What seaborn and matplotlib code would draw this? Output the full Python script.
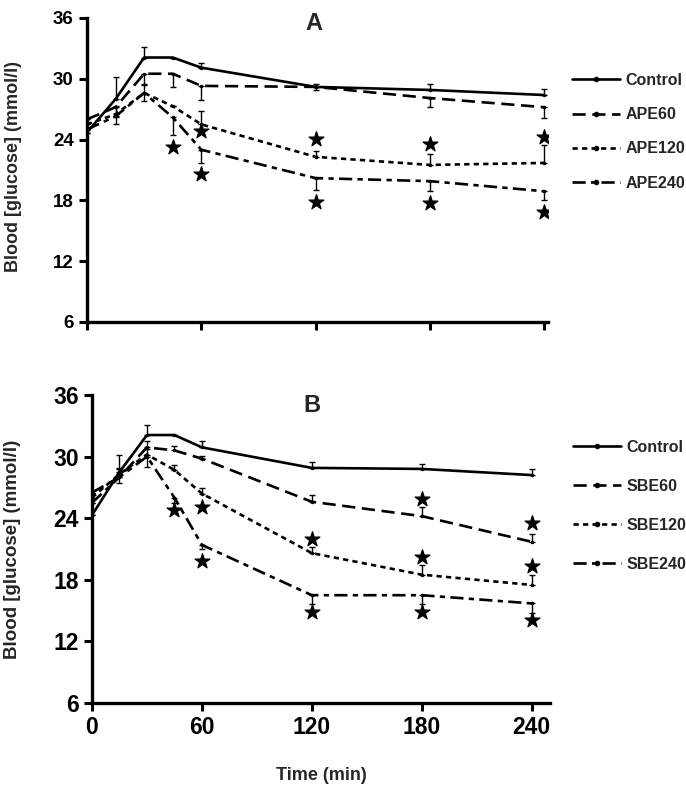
import numpy as np
import pandas as pd
import matplotlib
matplotlib.use("Agg")
import matplotlib.pyplot as plt
import seaborn as sns
from matplotlib.lines import Line2D

sns.set_style("ticks")
plt.rcParams['font.family'] = ['Liberation Sans', 'DejaVu Sans']
plt.rcParams['font.weight'] = 'bold'

# ---------------- data ----------------
time = [0, 15, 30, 45, 60, 120, 180, 240]

# Panel A
a_labels = ["Control", "APE60", "APE120", "APE240"]
a_control = [24.7, 28.0, 32.1, 32.1, 31.1, 29.2, 28.9, 28.4]
a_ape60 = [26.0, 27.2, 30.5, 30.5, 29.3, 29.2, 28.1, 27.2]
a_ape120 = [25.5, 26.5, 28.6, 27.3, 25.5, 22.3, 21.5, 21.7]
a_ape240 = [25.0, 26.3, 28.6, 26.2, 23.0, 20.2, 19.9, 18.9]
a_control_se = [0.0, 2.2, 1.0, 0.0, 0.5, 0.3, 0.6, 0.6]
a_ape60_se = [0.0, 1.0, 1.0, 1.3, 1.4, 0.3, 0.9, 1.1]
a_ape120_se = [0.0, 0.8, 0.8, 0.0, 1.3, 0.6, 1.1, 1.8]
a_ape240_se = [0.0, 0.8, 0.8, 1.7, 1.3, 1.2, 1.0, 0.9]

a_star_time = [45, 60, 60, 120, 120, 180, 180, 240, 240]
a_star_value = [23.3, 24.8, 20.6, 24.1, 17.8, 23.6, 17.7, 24.3, 16.9]

# Panel B
b_labels = ["Control", "SBE60", "SBE120", "SBE240"]
b_control = [24.3, 28.5, 32.1, 32.1, 30.9, 28.9, 28.8, 28.2]
b_sbe60 = [26.5, 28.0, 30.9, 30.6, 29.8, 25.6, 24.2, 21.7]
b_sbe120 = [26.0, 28.3, 30.2, 28.7, 26.4, 20.6, 18.5, 17.5]
b_sbe240 = [25.5, 28.0, 30.0, 26.0, 21.4, 16.5, 16.5, 15.7]
b_control_se = [0.0, 1.7, 1.0, 0.0, 0.6, 0.6, 0.5, 0.6]
b_sbe60_se = [0.0, 0.8, 0.6, 0.4, 0.3, 0.7, 0.9, 0.8]
b_sbe120_se = [0.0, 0.6, 0.5, 0.5, 0.5, 0.6, 0.9, 1.0]
b_sbe240_se = [0.0, 0.6, 1.0, 0.5, 0.4, 0.9, 0.9, 0.9]

b_star_time = [45, 60, 60, 120, 120, 180, 180, 180, 240, 240, 240]
b_star_value = [24.8, 25.1, 19.8, 22.0, 14.9, 25.9, 20.2, 14.9, 23.5, 19.3, 14.1]

yticks = [6, 12, 18, 24, 30, 36]
xticks = [0, 60, 120, 180, 240]

# ---------------- styling ----------------
dash_styles = ["-", (0, (5, 2.5)), (0, (2, 1.6)), (0, (5, 2, 2, 2))]
a_dirs = [1, -1, 1, -1]   # error bar direction
b_dirs = [1, 1, 1, -1]

fig = plt.figure(figsize=(6.86, 8.08), dpi=100)
axA = fig.add_axes([87/686, 1-322/808, 461/686, 304/808])
axB = fig.add_axes([92/686, 1-703/808, 458/686, 308/808])


def draw_panel(ax, series, ses, labels, dirs, st, sv, xlim):
    handles = []
    for vals, se, lab, ls, d in zip(series, ses, labels, dash_styles, dirs):
        df = pd.DataFrame({"t": time, "v": vals})
        sns.lineplot(data=df, x="t", y="v", ax=ax, color="black", lw=1.9,
                     linestyle=ls, marker="o", markersize=2.5, markeredgewidth=0,
                     legend=False)
        se = np.array(se)
        lower = se if d < 0 else np.zeros_like(se)
        upper = se if d > 0 else np.zeros_like(se)
        ax.errorbar(time, vals, yerr=[lower, upper], fmt="none", ecolor="black",
                    elinewidth=1.0, capsize=2.5, capthick=1.0)
        handles.append(Line2D([0], [0], color="black", lw=1.9, linestyle=ls,
                              marker="o", markersize=3))
    sdf = pd.DataFrame({"t": st, "v": sv})
    sns.scatterplot(data=sdf, x="t", y="v", ax=ax, marker="*", s=125,
                    color="black", edgecolor="black", legend=False)
    ax.set_xlim(*xlim)
    ax.set_ylim(6, 36)
    ax.set_yticks(yticks)
    ax.set_xticks(xticks)
    for side in ["top", "right"]:
        ax.spines[side].set_visible(False)
    for side in ["left", "bottom"]:
        ax.spines[side].set_linewidth(2.4)
        ax.spines[side].set_color("black")
    ax.tick_params(axis="both", direction="out", length=6, width=2.2, colors="black")
    return handles


hA = draw_panel(axA, [a_control, a_ape60, a_ape120, a_ape240],
                [a_control_se, a_ape60_se, a_ape120_se, a_ape240_se],
                a_labels, a_dirs, a_star_time, a_star_value, (0, 242))
hB = draw_panel(axB, [b_control, b_sbe60, b_sbe120, b_sbe240],
                [b_control_se, b_sbe60_se, b_sbe120_se, b_sbe240_se],
                b_labels, b_dirs, b_star_time, b_star_value, (0, 250))

# panel A ticks/labels
axA.set_xticklabels([])
axA.set_xlabel("")
axA.set_yticklabels([str(v) for v in yticks], fontsize=13.5, fontweight="bold")
axA.set_ylabel("Blood [glucose] (mmol/l)", fontsize=13, fontweight="bold")
axA.yaxis.set_label_coords(-0.142, 0.51)
fig.text(314/686, 1-24/808, "A", fontsize=17, fontweight="bold",
         ha="center", va="center")

# panel B ticks/labels
axB.set_xticklabels([str(v) for v in xticks], fontsize=16.5, fontweight="bold")
axB.set_yticklabels([str(v) for v in yticks], fontsize=16.5, fontweight="bold")
axB.set_xlabel("Time (min)", fontsize=13, fontweight="bold", labelpad=20)
axB.set_ylabel("Blood [glucose] (mmol/l)", fontsize=13.5, fontweight="bold")
axB.yaxis.set_label_coords(-0.155, 0.5)
fig.text(312/686, 1-405/808, "B", fontsize=17, fontweight="bold",
         ha="center", va="center")

fig.legend(hA, a_labels, loc="upper left", bbox_to_anchor=(572/686, 1-73/808),
           bbox_transform=fig.transFigure, frameon=False, borderaxespad=0,
           borderpad=0, handlelength=3.0, handletextpad=0.35, labelspacing=1.2,
           prop={"size": 11.5, "weight": "bold"})
fig.legend(hB, b_labels, loc="upper left", bbox_to_anchor=(573/686, 1-440/808),
           bbox_transform=fig.transFigure, frameon=False, borderaxespad=0,
           borderpad=0, handlelength=3.0, handletextpad=0.35, labelspacing=1.5,
           prop={"size": 11.5, "weight": "bold"})

fig.savefig("out.png", dpi=100)
